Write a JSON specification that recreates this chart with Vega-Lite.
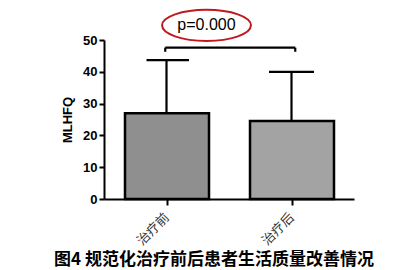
{
  "$schema": "https://vega.github.io/schema/vega-lite/v6.json",
  "autosize": "none",
  "width": 250,
  "height": 159,
  "padding": {"left": 104, "top": 40, "right": 41, "bottom": 71},
  "background": "white",
  "config": {"view": {"stroke": null}, "font": "Liberation Sans"},
  "title": {
    "text": "图4 规范化治疗前后患者生活质量改善情况",
    "orient": "bottom",
    "font": "Noto Sans CJK SC",
    "fontSize": 17,
    "fontWeight": "bold",
    "color": "#000000",
    "anchor": "middle",
    "dx": -15,
    "offset": 4
  },
  "datasets": {
    "bars": [
      {"group": "治疗前", "x": 0.168, "x2": 0.84, "y": 27.0, "y2": 0, "fill": "#8f8f8f"},
      {"group": "治疗后", "x": 1.168, "x2": 1.84, "y": 24.5, "y2": 0, "fill": "#a3a3a3"}
    ],
    "errs": [
      {"group": "治疗前", "x": 0.5, "x2": 0.5, "y": 27.0, "y2": 43.7},
      {"group": "治疗前", "x": 0.34, "x2": 0.68, "y": 43.7, "y2": 43.7},
      {"group": "治疗后", "x": 1.5, "x2": 1.5, "y": 24.5, "y2": 40.0},
      {"group": "治疗后", "x": 1.32, "x2": 1.68, "y": 40.0, "y2": 40.0},
      {"group": "bracket", "x": 0.49, "x2": 1.53, "y": 47.6, "y2": 47.6},
      {"group": "bracket", "x": 0.49, "x2": 0.49, "y": 47.6, "y2": 46.3},
      {"group": "bracket", "x": 1.53, "x2": 1.53, "y": 47.6, "y2": 46.3}
    ],
    "label": [
      {"label": "p=0.000", "x": 0.82, "y": 54.6}
    ]
  },
  "encoding": {
    "x": {
      "field": "x", "type": "quantitative",
      "scale": {"domain": [0, 2], "nice": false, "zero": false},
      "axis": {
        "values": [0.5, 1.5],
        "labelExpr": "datum.value < 1 ? '治疗前' : '治疗后'",
        "title": null,
        "grid": false,
        "domainColor": "#000000",
        "domainWidth": 2,
        "tickColor": "#000000",
        "tickWidth": 2,
        "tickSize": 6,
        "labelAngle": -45,
        "labelAlign": "right",
        "labelBaseline": "middle",
        "labelFont": "Noto Sans CJK SC",
        "labelFontSize": 13,
        "labelColor": "#333333",
        "labelPadding": 10,
        "labelDx": 4,
        "labelOverlap": false
      }
    },
    "y": {
      "field": "y", "type": "quantitative",
      "scale": {"domain": [0, 50], "nice": false},
      "axis": {
        "values": [0, 10, 20, 30, 40, 50],
        "title": "MLHFQ",
        "titleFont": "Liberation Sans",
        "titleFontSize": 13,
        "titleFontWeight": "bold",
        "titleColor": "#000000",
        "titlePadding": 8,
        "grid": false,
        "domainColor": "#000000",
        "domainWidth": 2,
        "tickColor": "#000000",
        "tickWidth": 2,
        "tickSize": 5,
        "labelFont": "Liberation Sans",
        "labelFontSize": 13,
        "labelFontWeight": "bold",
        "labelColor": "#000000",
        "labelPadding": 2,
        "labelOverlap": false
      }
    }
  },
  "layer": [
    {
      "data": {"name": "bars"},
      "mark": {"type": "bar", "stroke": "#000000", "strokeWidth": 2.5},
      "encoding": {
        "x2": {"field": "x2"},
        "y2": {"field": "y2"},
        "fill": {"field": "fill", "type": "nominal", "scale": null}
      }
    },
    {
      "data": {"name": "errs"},
      "mark": {"type": "rule", "stroke": "#000000", "strokeWidth": 2.2, "clip": false},
      "encoding": {
        "x2": {"field": "x2"},
        "y2": {"field": "y2"}
      }
    },
    {
      "data": {"name": "label"},
      "mark": {
        "type": "point",
        "shape": "M-1,0A1,0.35,0,1,1,1,0A1,0.35,0,1,1,-1,0Z",
        "size": 7900,
        "filled": false,
        "stroke": "#c0181f",
        "strokeWidth": 2,
        "opacity": 1
      }
    },
    {
      "data": {"name": "label"},
      "mark": {"type": "text", "font": "Liberation Sans", "fontSize": 16, "color": "#000000", "baseline": "middle", "align": "center"},
      "encoding": {"text": {"field": "label"}}
    }
  ]
}
